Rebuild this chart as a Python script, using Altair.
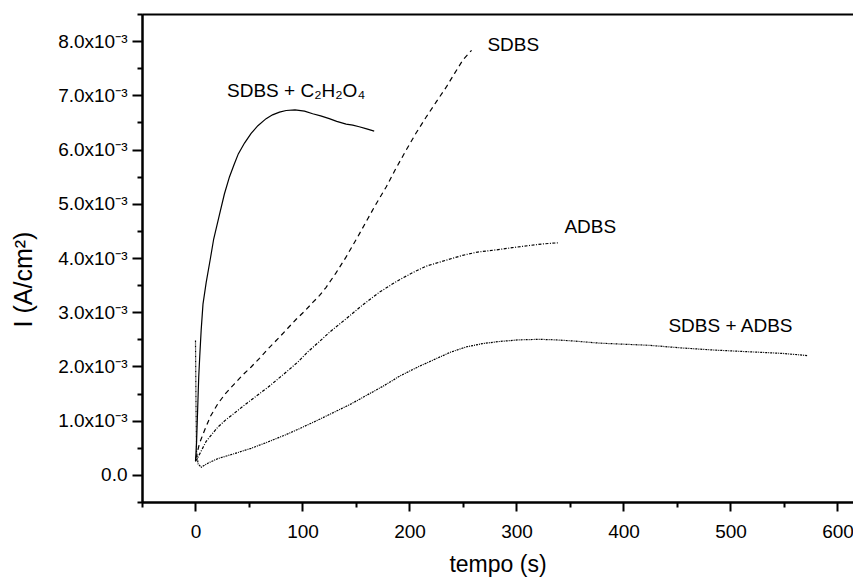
import altair as alt
import pandas as pd

# ---- data (time in s, current density in 10^-3 A/cm^2) ----
ox_t = [0, 1, 2, 3, 4, 5.3, 7, 10, 14, 17, 22.4, 27, 31.8, 36, 40, 45.8, 52, 58.3, 66, 72, 78.5, 84.7, 93,
        101.9, 109.5, 117, 125, 132, 140.8, 147, 153, 160, 167]
ox_i = [0.25, 0.6, 1.2, 1.8, 2.2, 2.67, 3.15, 3.55, 4.0, 4.35, 4.8, 5.18, 5.5, 5.72, 5.92, 6.12, 6.3, 6.44, 6.57, 6.64, 6.69, 6.72, 6.73,
        6.71, 6.66, 6.62, 6.57, 6.52, 6.47, 6.45, 6.42, 6.38, 6.34]

sd_t = [0, 1, 3.7, 8.4, 14, 20.8, 28, 36.4, 44, 52, 59.8, 67.6, 78.5, 86, 94.1, 102, 109.6, 116,
        122.1, 131.5, 140.8, 153.3, 159.5, 168, 178.2, 187, 196.9, 206, 215.6, 225, 234.3, 242, 249.8, 258]
sd_i = [0.3, 0.35, 0.58, 0.82, 1.08, 1.31, 1.50, 1.68, 1.84, 1.99, 2.15, 2.32, 2.54, 2.70, 2.87, 3.02, 3.18, 3.31,
        3.46, 3.73, 4.02, 4.45, 4.67, 4.97, 5.31, 5.64, 5.99, 6.30, 6.60, 6.88, 7.15, 7.40, 7.65, 7.83]

ad_t = [0, 2.2, 10, 20.8, 28, 36.4, 44, 52, 68, 83.2, 95.6, 105, 115.9, 125.2, 140.8, 156, 172, 188,
        203, 215.6, 234.3, 249.8, 263.8, 281, 296, 312, 325, 338.6]
ad_i = [0.25, 0.32, 0.62, 0.88, 1.01, 1.14, 1.26, 1.38, 1.62, 1.87, 2.08, 2.27, 2.46, 2.63, 2.88, 3.13, 3.37, 3.57,
        3.73, 3.85, 3.96, 4.05, 4.11, 4.15, 4.19, 4.23, 4.26, 4.28]

sa_t = [0, 0.5, 1, 2.5, 5.3, 12, 20.8, 36, 52, 68, 83.2, 98, 114.3, 130, 145.5, 161, 176.6, 190.7,
        207.8, 223.4, 238, 253, 268, 284, 302, 321.5, 337, 352.6, 377.6, 400, 424, 455, 486.6, 518, 548.9, 572]
sa_i = [2.48, 1.2, 0.4, 0.2, 0.14, 0.22, 0.30, 0.39, 0.49, 0.61, 0.73, 0.86, 1.01, 1.16, 1.31, 1.48, 1.65, 1.82,
        1.99, 2.13, 2.26, 2.36, 2.42, 2.46, 2.49, 2.50, 2.49, 2.47, 2.43, 2.41, 2.39, 2.34, 2.30, 2.27, 2.24, 2.20]

lab_text = ["SDBS + C\u2082H\u2082O\u2084", "SDBS", "ADBS", "SDBS + ADBS"]
lab_t = [94, 297, 369, 500]
lab_i = [7.08, 7.92, 4.57, 2.74]

x_major = [0, 100, 200, 300, 400, 500, 600]
x_minor = [-50, 50, 150, 250, 350, 450, 550]
y_major = [0, 0.001, 0.002, 0.003, 0.004, 0.005, 0.006, 0.007, 0.008]
y_minor = [-0.0005, 0.0005, 0.0015, 0.0025, 0.0035, 0.0045, 0.0055, 0.0065, 0.0075, 0.0085]


def frame(t, i):
    return pd.DataFrame({"t": t, "i": [v * 1e-3 for v in i]})


FONT = "Liberation Sans"
xs = alt.Scale(domain=[-50, 614.5], nice=False, zero=False)
ys = alt.Scale(domain=[-0.0005, 0.0085], nice=False, zero=False)

common = dict(grid=False, domainWidth=2, tickWidth=2, domainColor="black", tickColor="black",
              labelColor="black", titleColor="black", labelFont=FONT, titleFont=FONT,
              titleFontWeight="normal")

ax_x_major = alt.Axis(orient="bottom", values=x_major, tickSize=9, labelFontSize=19, labelPadding=11,
                      title="tempo (s)", titleFontSize=23, titlePadding=12, labelFlush=False, **common)
ax_x_minor = alt.Axis(orient="bottom", values=x_minor, tickSize=5, labels=False, title=None, **common)
ax_x_top = alt.Axis(orient="top", ticks=False, labels=False, title=None, **common)
ax_y_major = alt.Axis(orient="left", values=y_major, tickSize=10, labelFontSize=19, labelPadding=5,
                      labelExpr="datum.value == 0 ? '0.0' : format(datum.value*1000, '.1f') + 'x10\u207b\u00b3'",
                      title="I (A/cm\u00b2)", titleFontSize=25, titlePadding=21, titleY=265,
                      labelFlush=False, **common)
ax_y_minor = alt.Axis(orient="left", values=y_minor, tickSize=5, labels=False, title=None, **common)


def line(df, dash, xaxis, yaxis):
    m = alt.Chart(df).mark_line(color="black", strokeWidth=1.2, strokeDash=dash) if dash else \
        alt.Chart(df).mark_line(color="black", strokeWidth=1.2)
    return m.encode(
        x=alt.X("t:Q", scale=xs, axis=xaxis),
        y=alt.Y("i:Q", scale=ys, axis=yaxis),
        order=alt.Order("t:Q"),
    )


l_ox = line(frame(ox_t, ox_i), None, ax_x_major, ax_y_major)
l_sd = line(frame(sd_t, sd_i), [5, 4], ax_x_minor, ax_y_minor)
l_ad = line(frame(ad_t, ad_i), [3, 1.5, 1, 1.5], ax_x_top, None)
l_sa = line(frame(sa_t, sa_i), [2, 1, 1, 1], None, None)

labels = alt.Chart(pd.DataFrame({"t": lab_t, "i": [v * 1e-3 for v in lab_i], "txt": lab_text})).mark_text(
    font=FONT, fontSize=19, color="black", align="center", baseline="middle"
).encode(
    x=alt.X("t:Q", scale=xs, axis=None),
    y=alt.Y("i:Q", scale=ys, axis=None),
    text="txt:N",
)

chart = alt.layer(l_ox, l_sd, l_ad, l_sa, labels).resolve_axis(
    x="independent", y="independent"
).properties(
    width=711, height=488,
    autosize=alt.AutoSizeParams(type="none"),
    padding={"left": 142, "top": 14, "right": 0, "bottom": 78},
    background="white",
).configure_view(stroke=None)

chart.save("out.html", embed_options={"renderer": "svg", "actions": False})
